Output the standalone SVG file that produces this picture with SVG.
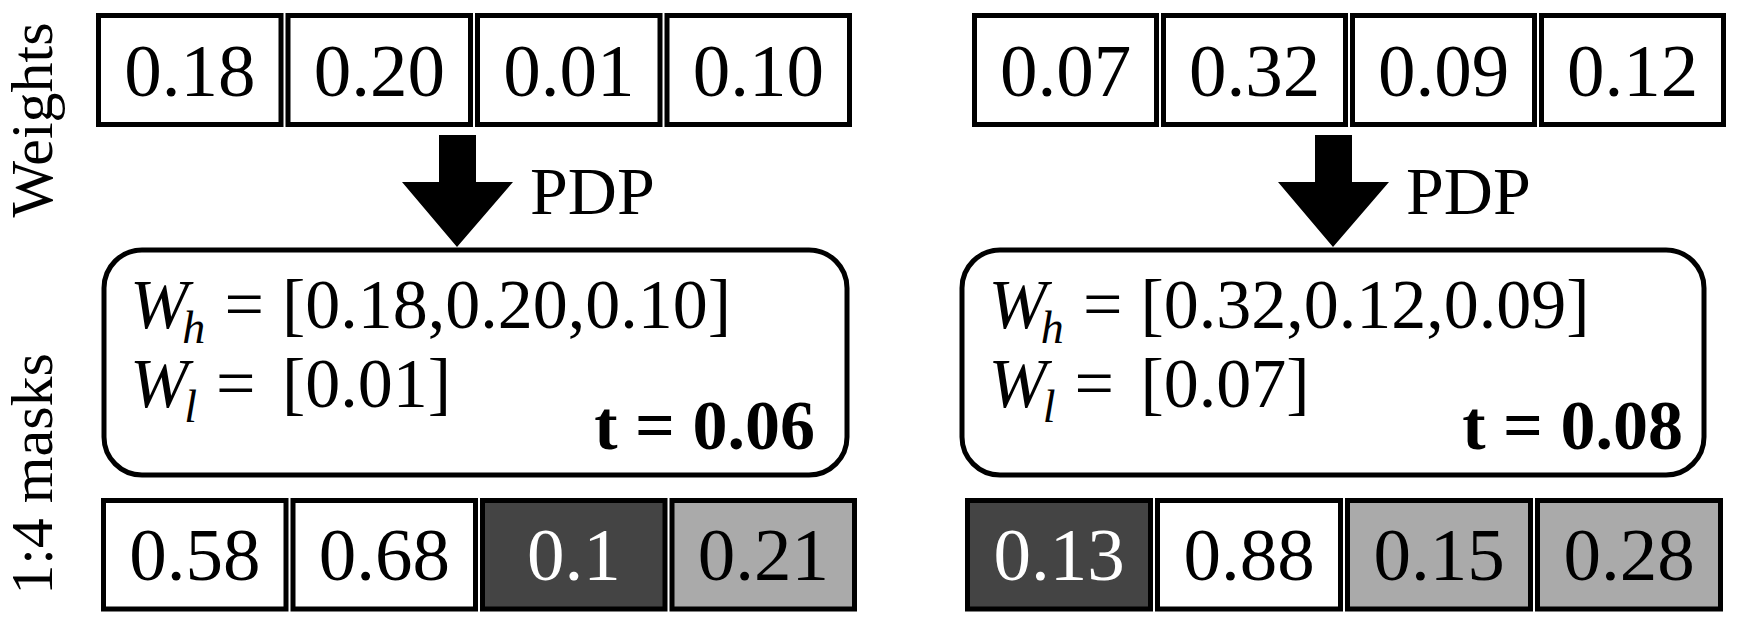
<svg xmlns="http://www.w3.org/2000/svg" width="1740" height="622" viewBox="0 0 1740 622">
<style>
.cell{stroke:#000;stroke-width:5}
.w{fill:#fff}
.d{fill:#444444}
.g{fill:#aaaaaa}
.rb{fill:#fff;stroke:#000;stroke-width:5}
</style>

<g id="label-weights"><text font-family="Liberation Serif" font-size="60" text-anchor="middle" transform="translate(52,120) rotate(-90)">Weights</text></g>
<g id="label-masks"><text font-family="Liberation Serif" font-size="60" text-anchor="middle" transform="translate(52,474) rotate(-90)">1:4 masks</text></g>

<!-- Left panel -->
<g id="left-weights">
<rect class="cell w" x="98.5" y="15.5" width="182.5" height="109"/>
<text font-family="Liberation Serif" font-size="75" text-anchor="middle" x="189.75" y="96">0.18</text>
<rect class="cell w" x="288" y="15.5" width="182.5" height="109"/>
<text font-family="Liberation Serif" font-size="75" text-anchor="middle" x="379.25" y="96">0.20</text>
<rect class="cell w" x="477.5" y="15.5" width="182.5" height="109"/>
<text font-family="Liberation Serif" font-size="75" text-anchor="middle" x="568.75" y="96">0.01</text>
<rect class="cell w" x="667" y="15.5" width="182.5" height="109"/>
<text font-family="Liberation Serif" font-size="75" text-anchor="middle" x="758.25" y="96">0.10</text>
</g>

<g id="connectors">
<polygon points="439,135 476,135 476,182 513,182 457,247 402,182 439,182" fill="#000"/>
<text font-family="Liberation Serif" font-size="68" x="530" y="214">PDP</text>
<polygon points="1315,135 1352,135 1352,182 1389,182 1333,247 1278,182 1315,182" fill="#000"/>
<text font-family="Liberation Serif" font-size="68" x="1406" y="214">PDP</text>
</g>

<g id="left-pdp-box">
<rect class="rb" x="104" y="250" width="743" height="225" rx="38" ry="38"/>
<text font-family="Liberation Serif" font-size="70" font-style="italic" x="130" y="328">W<tspan font-size="46" dx="-6" dy="15">h</tspan></text>
<text font-family="Liberation Serif" font-size="70" x="224.5" y="328">=</text>
<text font-family="Liberation Serif" font-size="70" x="282" y="328">[0.18,0.20,0.10]</text>
<text font-family="Liberation Serif" font-size="70" font-style="italic" x="130" y="407">W<tspan font-size="46" dx="-4" dy="15">l</tspan></text>
<text font-family="Liberation Serif" font-size="70" x="216" y="407">=</text>
<text font-family="Liberation Serif" font-size="70" x="282" y="407">[0.01]</text>
<text font-family="Liberation Serif" font-size="70" font-weight="bold" text-anchor="end" x="815" y="449">t = 0.06</text>
</g>

<g id="left-masks">
<rect class="cell w" x="103.5" y="500.5" width="182.5" height="108.5"/>
<text font-family="Liberation Serif" font-size="75" text-anchor="middle" x="194.75" y="580">0.58</text>
<rect class="cell w" x="293" y="500.5" width="182.5" height="108.5"/>
<text font-family="Liberation Serif" font-size="75" text-anchor="middle" x="384.25" y="580">0.68</text>
<rect class="cell d" x="482.5" y="500.5" width="182.5" height="108.5"/>
<text font-family="Liberation Serif" font-size="75" text-anchor="middle" fill="#fff" x="573.75" y="580">0.1</text>
<rect class="cell g" x="672" y="500.5" width="182.5" height="108.5"/>
<text font-family="Liberation Serif" font-size="75" text-anchor="middle" x="763.25" y="580">0.21</text>
</g>

<!-- Right panel -->
<g id="right-weights">
<rect class="cell w" x="974.5" y="15.5" width="182" height="109"/>
<text font-family="Liberation Serif" font-size="75" text-anchor="middle" x="1065.5" y="96">0.07</text>
<rect class="cell w" x="1163.5" y="15.5" width="182" height="109"/>
<text font-family="Liberation Serif" font-size="75" text-anchor="middle" x="1254.5" y="96">0.32</text>
<rect class="cell w" x="1352.5" y="15.5" width="182" height="109"/>
<text font-family="Liberation Serif" font-size="75" text-anchor="middle" x="1443.5" y="96">0.09</text>
<rect class="cell w" x="1541.5" y="15.5" width="182" height="109"/>
<text font-family="Liberation Serif" font-size="75" text-anchor="middle" x="1632.5" y="96">0.12</text>
</g>

<g id="right-pdp-box">
<rect class="rb" x="962" y="250" width="742" height="225" rx="38" ry="38"/>
<text font-family="Liberation Serif" font-size="70" font-style="italic" x="988.5" y="328">W<tspan font-size="46" dx="-6" dy="15">h</tspan></text>
<text font-family="Liberation Serif" font-size="70" x="1083" y="328">=</text>
<text font-family="Liberation Serif" font-size="70" x="1140.5" y="328">[0.32,0.12,0.09]</text>
<text font-family="Liberation Serif" font-size="70" font-style="italic" x="988.5" y="407">W<tspan font-size="46" dx="-4" dy="15">l</tspan></text>
<text font-family="Liberation Serif" font-size="70" x="1074.5" y="407">=</text>
<text font-family="Liberation Serif" font-size="70" x="1140.5" y="407">[0.07]</text>
<text font-family="Liberation Serif" font-size="70" font-weight="bold" text-anchor="end" x="1683" y="449">t = 0.08</text>
</g>

<g id="right-masks">
<rect class="cell d" x="967.5" y="500.5" width="183" height="108.5"/>
<text font-family="Liberation Serif" font-size="75" text-anchor="middle" fill="#fff" x="1059" y="580">0.13</text>
<rect class="cell w" x="1157.5" y="500.5" width="183" height="108.5"/>
<text font-family="Liberation Serif" font-size="75" text-anchor="middle" x="1249" y="580">0.88</text>
<rect class="cell g" x="1347.5" y="500.5" width="183" height="108.5"/>
<text font-family="Liberation Serif" font-size="75" text-anchor="middle" x="1439" y="580">0.15</text>
<rect class="cell g" x="1537.5" y="500.5" width="183" height="108.5"/>
<text font-family="Liberation Serif" font-size="75" text-anchor="middle" x="1629" y="580">0.28</text>
</g>
</svg>
